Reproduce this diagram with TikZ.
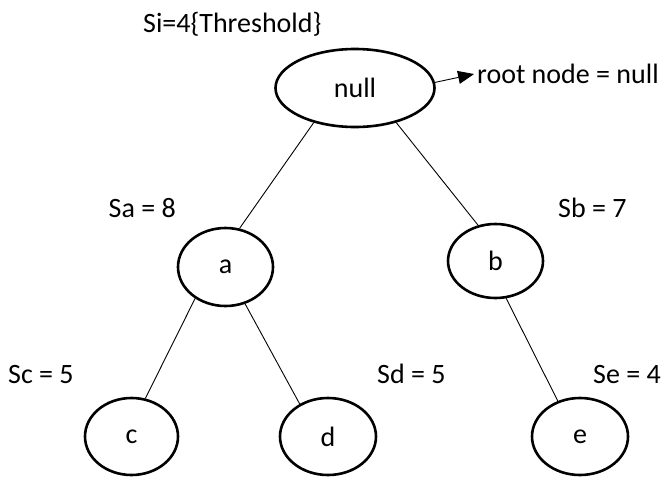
\documentclass[tikz,border=0pt]{standalone}
\usepackage{fontspec}
\setmainfont{Carlito}
\usetikzlibrary{shapes.geometric,arrows.meta}
\begin{document}
\begin{tikzpicture}[x=1pt,y=-1pt,
  every node/.style={font=\fontsize{28}{34}\selectfont},
  treenode/.style={ellipse,draw,line width=2.6pt,inner sep=0pt},
  lbl/.style={inner sep=0pt},
  edge/.style={line width=0.9pt}]
\useasboundingbox (0,0) rectangle (666,477);
\node[treenode,minimum width=159pt,minimum height=78pt] (null) at (355,88) {null};
\node[treenode,minimum width=95pt,minimum height=78pt] (a) at (225.5,267) {a};
\node[treenode,minimum width=95pt,minimum height=74pt] (b) at (495.5,261) {b};
\node[treenode,minimum width=93pt,minimum height=77pt] (c) at (131.5,436.5) {c};
\node[treenode,minimum width=96pt,minimum height=77pt] (d) at (328,436.5) {d};
\node[treenode,minimum width=96pt,minimum height=77pt] (e) at (580,436.5) {e};
\node[lbl,anchor=base west] (si) at (143,32) {Si=4\{Threshold\}};
\node[lbl,anchor=base west] (root) at (477,83) {root node = null};
\node[lbl,anchor=base east] (sa) at (176,217) {Sa = 8};
\node[lbl,anchor=base west] (sb) at (558,217) {Sb = 7};
\node[lbl,anchor=base west] (sc) at (8,383) {Sc = 5};
\node[lbl,anchor=base west] (sd) at (377,383) {Sd = 5};
\node[lbl,anchor=base west] (se) at (593,383) {Se = 4};
\draw[edge] (null.220) -- (a.70);
\draw[edge] (null.320) -- (b.116);
\draw[edge] (a.226) -- (c.70);
\draw[edge] (a.298) -- (d.131);
\draw[edge] (b.286) -- (e.122);
\draw[edge,-{Triangle[length=16pt,width=13pt]},shorten >=3pt] (null.4) -- (root.west);
\end{tikzpicture}
\end{document}
